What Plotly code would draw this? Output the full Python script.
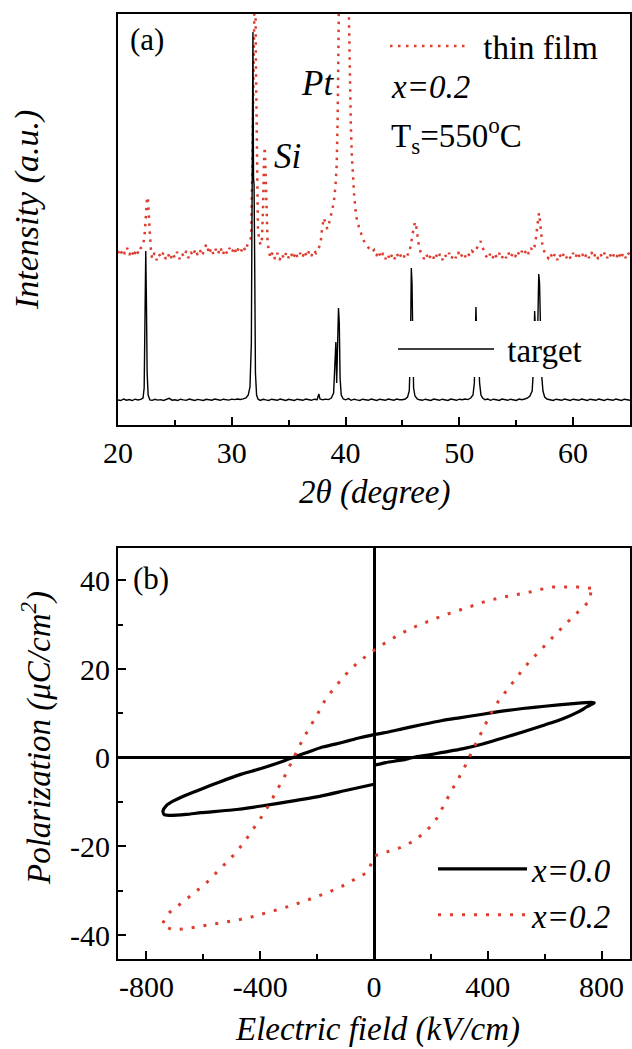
import plotly.graph_objects as go

W, H = 632, 1049

# ---------------- (a) XRD data ----------------
film_2theta = [
    20.0, 20.2, 20.4, 20.6, 20.8, 21.0, 21.2, 21.4, 21.6, 21.8, 22.0, 22.2,
    22.35, 22.45, 22.55, 22.62, 22.7, 22.8, 22.9,
    23.0, 23.2, 23.4, 23.6, 23.8, 24.0, 24.2, 24.4, 24.6, 24.8, 25.0, 25.2, 25.4, 25.6, 25.8,
    26.0, 26.2, 26.4, 26.6, 26.8, 27.0, 27.2, 27.4, 27.6, 27.8, 28.0, 28.2, 28.4, 28.6, 28.8,
    29.0, 29.2, 29.4, 29.6, 29.8, 30.0, 30.2, 30.4, 30.6, 30.8, 31.0, 31.2, 31.4,
    31.55, 31.7, 31.8, 31.88, 31.95, 32.05, 32.12, 32.2, 32.3, 32.42, 32.55, 32.65, 32.75,
    32.83, 32.9, 32.97, 33.05, 33.15, 33.3,
    33.4, 33.6, 33.8, 34.0, 34.2, 34.4, 34.6, 34.8, 35.0, 35.2, 35.4, 35.6, 35.8, 36.0,
    36.2, 36.4, 36.6, 36.8, 37.0, 37.2, 37.4,
    37.6, 37.8, 37.95, 38.1, 38.25, 38.4, 38.55, 38.7, 38.85, 39.0, 39.12, 39.22, 39.3,
    39.38, 39.45, 40.2, 40.3, 40.38, 40.46, 40.55, 40.65, 40.75, 40.88, 41.0, 41.15, 41.3,
    41.5, 41.7, 41.9, 42.1, 42.3, 42.5,
    42.7, 42.9, 43.1, 43.3, 43.5, 43.7, 43.9, 44.1, 44.3, 44.5, 44.7, 44.9, 45.1, 45.3, 45.5,
    45.65, 45.78, 45.9, 46.02, 46.12, 46.22, 46.32, 46.45, 46.6, 46.75,
    46.9, 47.1, 47.3, 47.5, 47.7, 47.9, 48.1, 48.3, 48.5, 48.7, 48.9, 49.1, 49.3, 49.5,
    49.7, 49.9, 50.1, 50.3, 50.5, 50.7, 50.9, 51.1, 51.3,
    51.45, 51.6, 51.75, 51.87, 52.0, 52.15, 52.3,
    52.5, 52.7, 52.9, 53.1, 53.3, 53.5, 53.7, 53.9, 54.1, 54.3, 54.5, 54.7, 54.9, 55.1,
    55.3, 55.5, 55.7, 55.9, 56.1, 56.3, 56.45,
    56.6, 56.72, 56.82, 56.92, 57.0, 57.08, 57.18, 57.3, 57.45, 57.6,
    57.8, 58.0, 58.2, 58.4, 58.6, 58.8, 59.0, 59.2, 59.4, 59.6, 59.8, 60.0, 60.2, 60.4,
    60.6, 60.8, 61.0, 61.2, 61.4, 61.6, 61.8, 62.0, 62.2, 62.4, 62.6, 62.8, 63.0, 63.2,
    63.4, 63.6, 63.8, 64.0, 64.2, 64.4, 64.6, 64.8, 65.0,
]
film_intensity = [
    172, 167, 174, 169, 175, 168, 173, 166, 174, 169, 175, 177,
    190, 212, 224, 226, 214, 190, 172,
    164, 170, 163, 169, 165, 171, 164, 169, 163, 170, 165, 171, 164, 170, 166,
    172, 165, 171, 167, 174, 168, 173, 167, 175, 179, 169, 175, 168, 174, 169,
    176, 168, 174, 169, 175, 170, 176, 169, 175, 171, 177, 172, 179,
    181, 186, 250, 360, 470, 470, 360, 260, 195, 182, 178, 184, 215,
    262, 276, 250, 205, 180, 170,
    165, 171, 164, 170, 163, 169, 164, 171, 165, 170, 164, 171, 165, 170,
    165, 172, 166, 172, 167, 173, 170,
    174, 179, 196, 205, 199, 194, 200, 206, 214, 224, 238, 258, 300,
    380, 470, 470, 390, 346, 300, 268, 243, 229, 212, 203, 197, 191,
    185, 180, 177, 174, 171, 173,
    167, 172, 165, 170, 164, 169, 163, 169, 164, 170, 164, 169, 165, 171, 168,
    173, 180, 189, 197, 201, 196, 186, 177, 171, 167,
    164, 169, 163, 168, 164, 170, 164, 169, 163, 169, 165, 170, 164, 169,
    165, 171, 165, 170, 166, 171, 167, 172, 170,
    173, 176, 180, 182, 177, 172, 168,
    164, 169, 164, 170, 165, 170, 164, 169, 165, 171, 165, 170, 166, 172,
    167, 172, 168, 174, 169, 175, 172,
    176, 184, 196, 207, 210, 203, 190, 178, 172, 168,
    165, 170, 164, 169, 163, 169, 164, 170, 165, 169, 164, 170, 165, 171,
    165, 169, 164, 170, 165, 171, 165, 170, 164, 169, 165, 171, 165, 170,
    164, 169, 165, 171, 164, 170, 165, 171, 167,
]

target_2theta = [
    20.0, 20.25, 20.5, 20.75, 21.0, 21.25, 21.5, 21.75, 22.0, 22.2, 22.3, 22.37, 22.44,
    22.5, 22.56, 22.65, 22.8, 23.0, 23.25, 23.5, 23.75, 24.0, 24.25, 24.5, 24.75, 25.0,
    25.25, 25.5, 25.75, 26.0, 26.25, 26.5, 26.75, 27.0, 27.25, 27.5, 27.75, 28.0, 28.25,
    28.5, 28.75, 29.0, 29.25, 29.5, 29.75, 30.0, 30.25, 30.5, 30.75, 31.0, 31.25, 31.45,
    31.6, 31.72, 31.8, 31.86, 31.91, 31.96, 32.02, 32.08, 32.18, 32.3, 32.5, 32.75, 33.0,
    33.25, 33.5, 33.75, 34.0, 34.25, 34.5, 34.75, 35.0, 35.25, 35.5, 35.75, 36.0, 36.25,
    36.5, 36.75, 37.0, 37.25, 37.5, 37.65, 37.75, 38.0, 38.25, 38.5, 38.75, 38.95, 39.08,
    39.15, 39.22, 39.3, 39.38, 39.45, 39.52, 39.62, 39.8, 40.0, 40.25, 40.5, 40.75, 41.0,
    41.25, 41.5, 41.75, 42.0, 42.25, 42.5, 42.75, 43.0, 43.25, 43.5, 43.75, 44.0, 44.25,
    44.5, 44.75, 45.0, 45.25, 45.45, 45.6, 45.7, 45.78, 45.84, 45.9, 45.98, 46.1, 46.3,
    46.5, 46.75, 47.0, 47.25, 47.5, 47.75, 48.0, 48.25, 48.5, 48.75, 49.0, 49.25, 49.5,
    49.75, 50.0, 50.25, 50.5, 50.75, 51.0, 51.2, 51.32, 51.4, 51.46, 51.52, 51.6, 51.68,
    51.78, 51.9, 52.05, 52.25, 52.5, 52.75, 53.0, 53.25, 53.5, 53.75, 54.0, 54.25, 54.5,
    54.75, 55.0, 55.25, 55.5, 55.75, 56.0, 56.2, 56.4, 56.52, 56.62, 56.7, 56.8, 56.9,
    56.98, 57.05, 57.12, 57.22, 57.35, 57.5, 57.7, 58.0, 58.25, 58.5, 58.75, 59.0, 59.25,
    59.5, 59.75, 60.0, 60.25, 60.5, 60.75, 61.0, 61.25, 61.5, 61.75, 62.0, 62.25, 62.5,
    62.75, 63.0, 63.25, 63.5, 63.75, 64.0, 64.25, 64.5, 64.75, 65.0,
]
target_intensity = [
    23, 22.5, 24, 22.8, 23.5, 22.4, 23.8, 23, 23.6, 25, 35, 95, 172,
    120, 50, 28, 23, 22.6, 23.7, 22.9, 23.4, 22.5, 23.9, 24.6, 22.8, 23.3,
    22.6, 23.8, 23.1, 22.7, 23.9, 23.2, 22.6, 23.6, 23.1, 22.5, 23.7, 23.2, 22.8,
    23.9, 23.1, 22.7, 23.8, 23.3, 22.9, 23.9, 23.4, 24, 23.5, 24.1, 25, 28,
    36, 80, 250, 391, 245, 238, 150, 50, 28, 24, 22.6, 23.7, 23.1,
    22.6, 23.8, 23.1, 22.7, 23.9, 23.2, 22.6, 23.7, 23.1, 22.6, 23.8, 23.2, 22.7,
    23.9, 23.3, 22.7, 23.8, 23.3, 29, 24, 23.2, 23.9, 23.4, 25, 30, 60,
    81, 40, 70, 115, 100, 45, 28, 24, 23.2, 24.4, 22.7, 23.8, 23.1,
    22.6, 23.8, 23.2, 22.7, 23.9, 23.1, 22.6, 23.8, 23.2, 22.7, 23.9, 23.1, 22.8,
    23.9, 23.2, 23.3, 24, 26, 32, 70, 155, 140, 80, 35, 27, 24,
    23.2, 22.7, 23.8, 23.1, 22.6, 23.9, 23.2, 22.7, 23.8, 23.1, 22.6, 23.9, 23.2,
    22.7, 23.8, 23.3, 24, 23.4, 25, 28, 40, 80, 116, 90, 100, 70,
    40, 28, 25, 23.3, 23.9, 22.7, 23.8, 23.2, 22.6, 23.9, 23.1, 22.7, 23.8,
    23.2, 22.6, 23.9, 23.3, 24, 25, 27, 32, 55, 112, 90, 80, 100,
    149, 140, 90, 50, 32, 26, 24, 23.2, 22.6, 23.8, 23.1, 22.7, 23.9,
    23.2, 22.6, 23.8, 23.1, 22.7, 23.9, 23.2, 22.6, 23.8, 23.3, 22.7, 23.9, 23.2,
    22.6, 23.8, 23.1, 22.7, 23.9, 23.2, 22.6, 23.8, 23.1, 22.8,
]

# ---------------- (b) P-E loops ----------------
loop0_field = [0, 42, 100, 141, 190, 240, 310, 382, 450, 523, 600, 664, 720, 749, 770, 774,
               763, 700, 600, 523, 450, 382, 300, 240, 170, 99, 50, 0,
               -50, -85, -140, -184, -230, -268, -325, -400, -466, -540, -608, -660, -707,
               -730, -742, -738, -721, -660, -608, -500, -396, -300, -184, -100, 0]
loop0_pol = [-1.7, -1.1, -0.5, 0.1, 0.6, 1.2, 2.0, 3.1, 4.4, 5.8, 7.4, 8.8, 10.4, 11.5, 12.2, 12.4,
             12.5, 12.2, 11.6, 11.1, 10.5, 9.8, 9.0, 8.4, 7.5, 6.5, 5.8, 5.2,
             4.5, 3.9, 3.0, 2.35, 1.3, 0.45, -0.9, -2.5, -3.7, -5.4, -7.1, -8.4, -9.8,
             -10.8, -12.0, -12.8, -13.0, -12.8, -12.4, -11.8, -10.9, -9.9, -8.6, -7.4, -6.0]

loop2_field = [763, 716, 671, 626, 582, 537, 490, 444, 398, 353, 308, 263, 216, 170, 127, 78,
               32, -11, -57, -99, -138, -172, -198, -250, -273, -294, -318, -343, -367, -396,
               -427, -459, -497, -540, -586, -632, -678, -723, -746,
               -709, -664, -619, -572, -526, -480, -435, -389, -342, -297, -251, -205, -158,
               -113, -71, -24, 3, 45, 92, 137, 184, 222, 247, 271, 297, 321, 342, 365, 386,
               410, 438, 473, 509, 544, 586, 629, 671, 716, 760, 763]
loop2_pol = [38.2, 38.5, 38.5, 38.5, 37.9, 37.2, 36.7, 36.0, 35.4, 34.4, 33.5, 32.5, 31.4, 30.2,
             29.1, 27.4, 25.6, 23.7, 21.5, 18.8, 15.9, 13.0, 9.9, 4.2, 1.2, -1.7, -4.7, -7.5,
             -10.4, -13.4, -16.4, -19.3, -22.2, -25.1, -28.0, -30.5, -32.8, -35.1, -37.7,
             -38.8, -38.6, -38.1, -37.7, -37.1, -36.6, -36.0, -35.2, -34.3, -33.5, -32.5,
             -31.4, -30.3, -29.0, -27.6, -25.9, -22.1, -21.3, -20.3, -18.9, -16.6, -13.6,
             -10.5, -7.6, -4.7, -1.8, 1.1, 4.1, 7.1, 9.9, 12.8, 15.8, 18.7, 21.5, 24.4,
             27.2, 30.0, 32.7, 35.5, 38.2]

xrd_ticks = [20, 30, 40, 50, 60]
pe_x_ticks = [-800, -400, 0, 400, 800]
pe_y_ticks = [-40, -20, 0, 20, 40]

RED = "#dc3d2e"
FONT = "Liberation Serif, Times New Roman, Times, serif"
NB = "\u00a0"


def px(x):
    return x / W


def py(y):
    return 1 - y / H


fig = go.Figure()

fig.add_trace(go.Scatter(
    x=film_2theta, y=film_intensity, mode="lines", name=NB + "thin film",
    line=dict(color=RED, width=2.5, dash="2.5px,5.5px"),
    xaxis="x", yaxis="y", legend="legend"))
fig.add_trace(go.Scatter(
    x=target_2theta, y=target_intensity, mode="lines", name=NB + "target",
    line=dict(color="black", width=1.4),
    xaxis="x", yaxis="y", legend="legend2"))

fig.add_trace(go.Scatter(
    x=loop0_field, y=loop0_pol, mode="lines", name="<i>x=0.0</i>",
    line=dict(color="black", width=3.2, shape="spline", smoothing=0.6),
    xaxis="x2", yaxis="y2", legend="legend3"))
fig.add_trace(go.Scatter(
    x=loop2_field, y=loop2_pol, mode="lines", name="<i>x=0.2</i>",
    line=dict(color=RED, width=3, dash="3px,9px"),
    xaxis="x2", yaxis="y2", legend="legend3"))

axis_common = dict(showline=True, linecolor="black", linewidth=2, mirror=True,
                   showgrid=False, zeroline=False,
                   tickfont=dict(family=FONT, size=30, color="black"),
                   ticks="inside", tickwidth=2, ticklen=8, tickcolor="black",
                   automargin=False)

fig.update_layout(
    width=W, height=H,
    margin=dict(l=0, r=0, t=0, b=0),
    paper_bgcolor="white", plot_bgcolor="white",
    font=dict(family=FONT, color="black"),
    xaxis=dict(axis_common, domain=[px(118), px(630)], anchor="y", range=[20, 65],
               tickvals=xrd_ticks, ticktext=[str(v) for v in xrd_ticks],
               minor=dict(ticks="inside", dtick=5, tick0=20, ticklen=5, tickwidth=2,
                          tickcolor="black")),
    yaxis=dict(axis_common, domain=[py(425), py(14)], anchor="x", range=[-2, 409],
               ticks="", showticklabels=False),
    xaxis2=dict(axis_common, domain=[px(118), px(630)], anchor="y2", range=[-900, 900],
                tickvals=pe_x_ticks, ticktext=[str(v) for v in pe_x_ticks],
                zeroline=True, zerolinecolor="black", zerolinewidth=2.5,
                minor=dict(ticks="inside", tickvals=[-600, -200, 200, 600], ticklen=5,
                           tickwidth=2, tickcolor="black")),
    yaxis2=dict(axis_common, domain=[py(959), py(548)], anchor="x2", range=[-45.4, 47.3],
                tickvals=pe_y_ticks, ticktext=[str(v) for v in pe_y_ticks],
                zeroline=True, zerolinecolor="black", zerolinewidth=2.5,
                minor=dict(ticks="inside", tickvals=[-30, -10, 10, 30], ticklen=5,
                           tickwidth=2, tickcolor="black")),
    legend=dict(x=px(385), y=py(18), xanchor="left", yanchor="top",
                bgcolor="rgba(0,0,0,0)", itemwidth=80, tracegroupgap=0,
                font=dict(family=FONT, size=33, color="black")),
    legend2=dict(x=px(393), y=py(321), xanchor="left", yanchor="top",
                 bgcolor="white", itemwidth=96,
                 font=dict(family=FONT, size=33, color="black")),
    legend3=dict(x=px(433), y=py(841), xanchor="left", yanchor="top",
                 bgcolor="rgba(0,0,0,0)", itemwidth=89,
                 font=dict(family=FONT, size=33, color="black")),
    showlegend=True,
)

ann = [
    dict(text="(a)", x=px(147), y=py(40), size=31),
    dict(text="<i>Pt</i>", x=px(317), y=py(83), size=35),
    dict(text="<i>Si</i>", x=px(287), y=py(157), size=35),
    dict(text="<i>x=0.2</i>", x=px(430), y=py(87), size=33),
    dict(text="T<sub>s</sub>=550<sup>o</sup>C", x=px(456), y=py(135), size=33),
    dict(text="(b)", x=px(151), y=py(578), size=31),
    dict(text="<i>2θ (degree)</i>", x=px(375), y=py(493), size=33),
    dict(text="<i>Intensity (a.u.)</i>", x=px(27), y=py(210), size=34, angle=-90),
    dict(text="<i>Electric field (kV/cm)</i>", x=px(377), y=py(1029), size=33),
    dict(text="<i>Polarization (μC/cm<sup>2</sup>)</i>", x=px(36), y=py(738), size=33, angle=-90),
]
for a in ann:
    fig.add_annotation(text=a["text"], x=a["x"], y=a["y"], xref="paper", yref="paper",
                       xanchor="center", yanchor="middle", showarrow=False,
                       textangle=a.get("angle", 0),
                       font=dict(family=FONT, size=a["size"], color="black"))

fig.write_html("out.html", config={"displayModeBar": False},
               post_script="document.body.style.margin='0';")
